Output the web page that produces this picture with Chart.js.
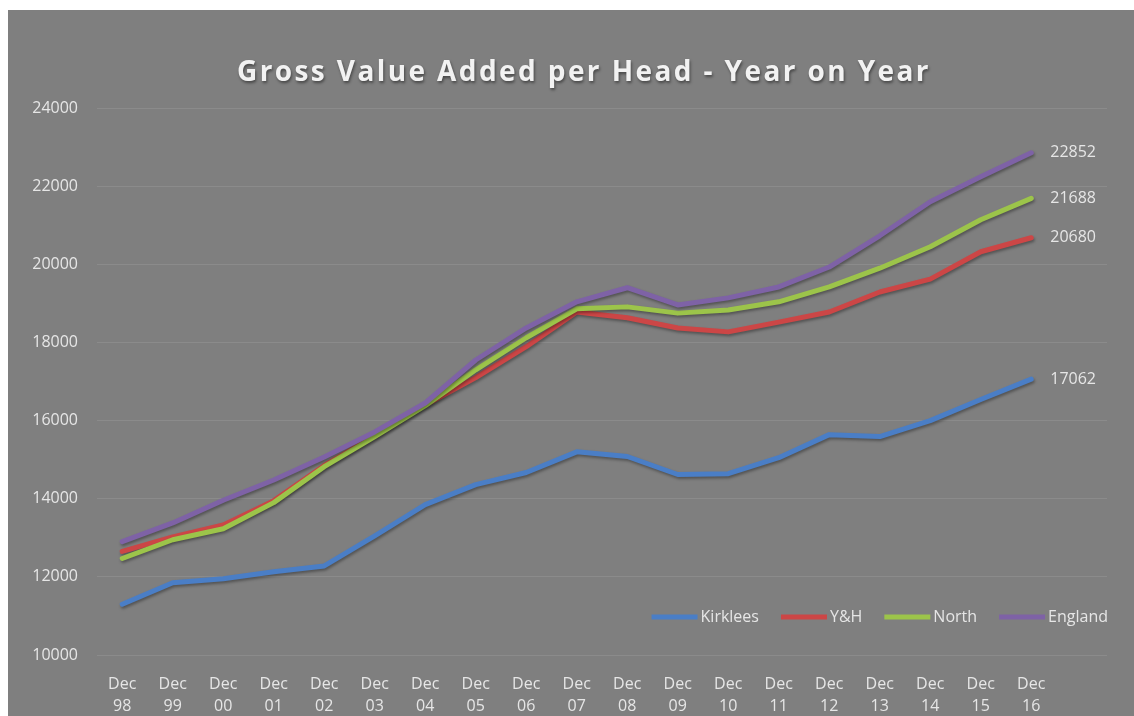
<!DOCTYPE html>
<html>
<head>
<meta charset="utf-8">
<script src="https://cdn.jsdelivr.net/npm/chart.js@4"></script>
<style>
  html, body { margin: 0; padding: 0; background: #ffffff; }
  #panel {
    position: absolute; left: 8px; top: 10px;
    width: 1126px; height: 706px;
    background: #7f7f7f;
  }
</style>
</head>
<body>
<div id="panel"><canvas id="chart" width="1126" height="706"></canvas></div>
<script>
const TITLE = "Gross Value Added per Head - Year on Year";

// x axis: Dec 98 .. Dec 16
const years = ["98", "99", "00", "01", "02", "03", "04", "05", "06", "07",
  "08", "09", "10", "11", "12", "13", "14", "15", "16"];

const yTicks = [10000, 12000, 14000, 16000, 18000, 20000, 22000, 24000];

const kirklees = [11300, 11850, 11950, 12130, 12280, 13050, 13850, 14360, 14670, 15200,
  15080, 14620, 14640, 15050, 15640, 15590, 16000, 16540, 17062];
const yandh = [12650, 13020, 13330, 13950, 14850, 15600, 16400, 17100, 17890, 18780,
  18630, 18370, 18270, 18520, 18780, 19290, 19620, 20320, 20680];
const north = [12470, 12950, 13230, 13900, 14820, 15590, 16380, 17300, 18120, 18860,
  18910, 18750, 18830, 19040, 19420, 19900, 20450, 21140, 21688];
const england = [12900, 13380, 13960, 14480, 15070, 15710, 16450, 17550, 18370, 19040,
  19400, 18960, 19140, 19420, 19930, 20730, 21600, 22240, 22852];

const seriesNames = ["Kirklees", "Y&H", "North", "England"];
const seriesColors = ["#4a7ec6", "#cc4646", "#9cc44a", "#7e62a6"];
const seriesData = [kirklees, yandh, north, england];

const TEXT = "#e6e6e6";
const FONT = "'Open Sans', sans-serif";

// Excel-ish drop shadow under the lines
const lineShadow = {
  id: "lineShadow",
  beforeDatasetsDraw(chart) {
    const ctx = chart.ctx;
    ctx.save();
    ctx.shadowColor = "rgba(0,0,0,0.35)";
    ctx.shadowBlur = 3;
    ctx.shadowOffsetX = 1;
    ctx.shadowOffsetY = 2;
  },
  afterDatasetsDraw(chart) {
    chart.ctx.restore();
  },
};

// title, end labels and the in-plot legend
const extras = {
  id: "extras",
  afterDraw(chart) {
    const ctx = chart.ctx;
    const area = chart.chartArea;

    ctx.save();
    ctx.font = "bold 28px " + FONT;
    ctx.letterSpacing = "2.4px";
    ctx.fillStyle = "#f2f2f2";
    ctx.textAlign = "center";
    ctx.textBaseline = "middle";
    ctx.shadowColor = "rgba(0,0,0,0.45)";
    ctx.shadowBlur = 3;
    ctx.shadowOffsetX = 1;
    ctx.shadowOffsetY = 2;
    ctx.fillText(TITLE, 576, 63);
    ctx.restore();

    // value labels at the last point of each series
    ctx.save();
    ctx.font = "16px " + FONT;
    ctx.fillStyle = TEXT;
    ctx.textAlign = "left";
    ctx.textBaseline = "middle";
    chart.data.datasets.forEach((ds, i) => {
      const meta = chart.getDatasetMeta(i);
      const last = ds.data.length - 1;
      const pt = meta.data[last];
      ctx.fillText(String(ds.data[last]), pt.x + 19, pt.y);
    });
    ctx.restore();

    // legend
    ctx.save();
    ctx.font = "16px " + FONT;
    ctx.textBaseline = "middle";
    const lineLen = 46, gapText = 3, gapItem = 22;
    const widths = seriesNames.map(n => ctx.measureText(n).width);
    let total = 0;
    widths.forEach((w, i) => { total += lineLen + gapText + w + (i < widths.length - 1 ? gapItem : 0); });
    let x = area.right + 1 - total;
    const y = area.bottom - 38;
    seriesNames.forEach((name, i) => {
      ctx.strokeStyle = seriesColors[i];
      ctx.lineWidth = 5;
      ctx.lineCap = "butt";
      ctx.beginPath();
      ctx.moveTo(x, y);
      ctx.lineTo(x + lineLen, y);
      ctx.stroke();
      ctx.fillStyle = TEXT;
      ctx.fillText(name, x + lineLen + gapText, y);
      x += lineLen + gapText + widths[i] + gapItem;
    });
    ctx.restore();
  },
};

const labels = years.map(y => ["Dec", y]).concat([""]);

const datasets = seriesNames.map((name, i) => ({
  label: name,
  data: seriesData[i],
  borderColor: seriesColors[i],
  backgroundColor: seriesColors[i],
  borderWidth: 5,
  pointRadius: 0,
  tension: 0,
  fill: false,
  borderCapStyle: "round",
  borderJoinStyle: "round",
  order: seriesNames.length - i,
}));

new Chart(document.getElementById("chart"), {
  type: "line",
  data: { labels, datasets },
  options: {
    responsive: false,
    animation: false,
    layout: { padding: { top: 98, right: 27, bottom: 0, left: 0 } },
    plugins: {
      legend: { display: false },
      title: { display: false },
      tooltip: { enabled: false },
    },
    scales: {
      x: {
        type: "category",
        offset: true,
        grid: { display: false, drawTicks: false },
        border: { display: false },
        ticks: {
          color: TEXT,
          font: { family: FONT, size: 16, lineHeight: 1.4 },
          padding: 18,
          maxRotation: 0,
          autoSkip: false,
        },
        afterFit(scale) { scale.height = 61; },
      },
      y: {
        min: 10000,
        max: 24000,
        afterBuildTicks(scale) { scale.ticks = yTicks.map(v => ({ value: v })); },
        grid: { color: "#8b8b8b", lineWidth: 1, drawTicks: false },
        border: { display: false },
        ticks: {
          color: TEXT,
          font: { family: FONT, size: 16 },
          padding: 19,
          callback: (value) => String(value),
        },
        afterFit(scale) { scale.width = 89; },
      },
    },
  },
  plugins: [lineShadow, extras],
});
</script>
</body>
</html>
